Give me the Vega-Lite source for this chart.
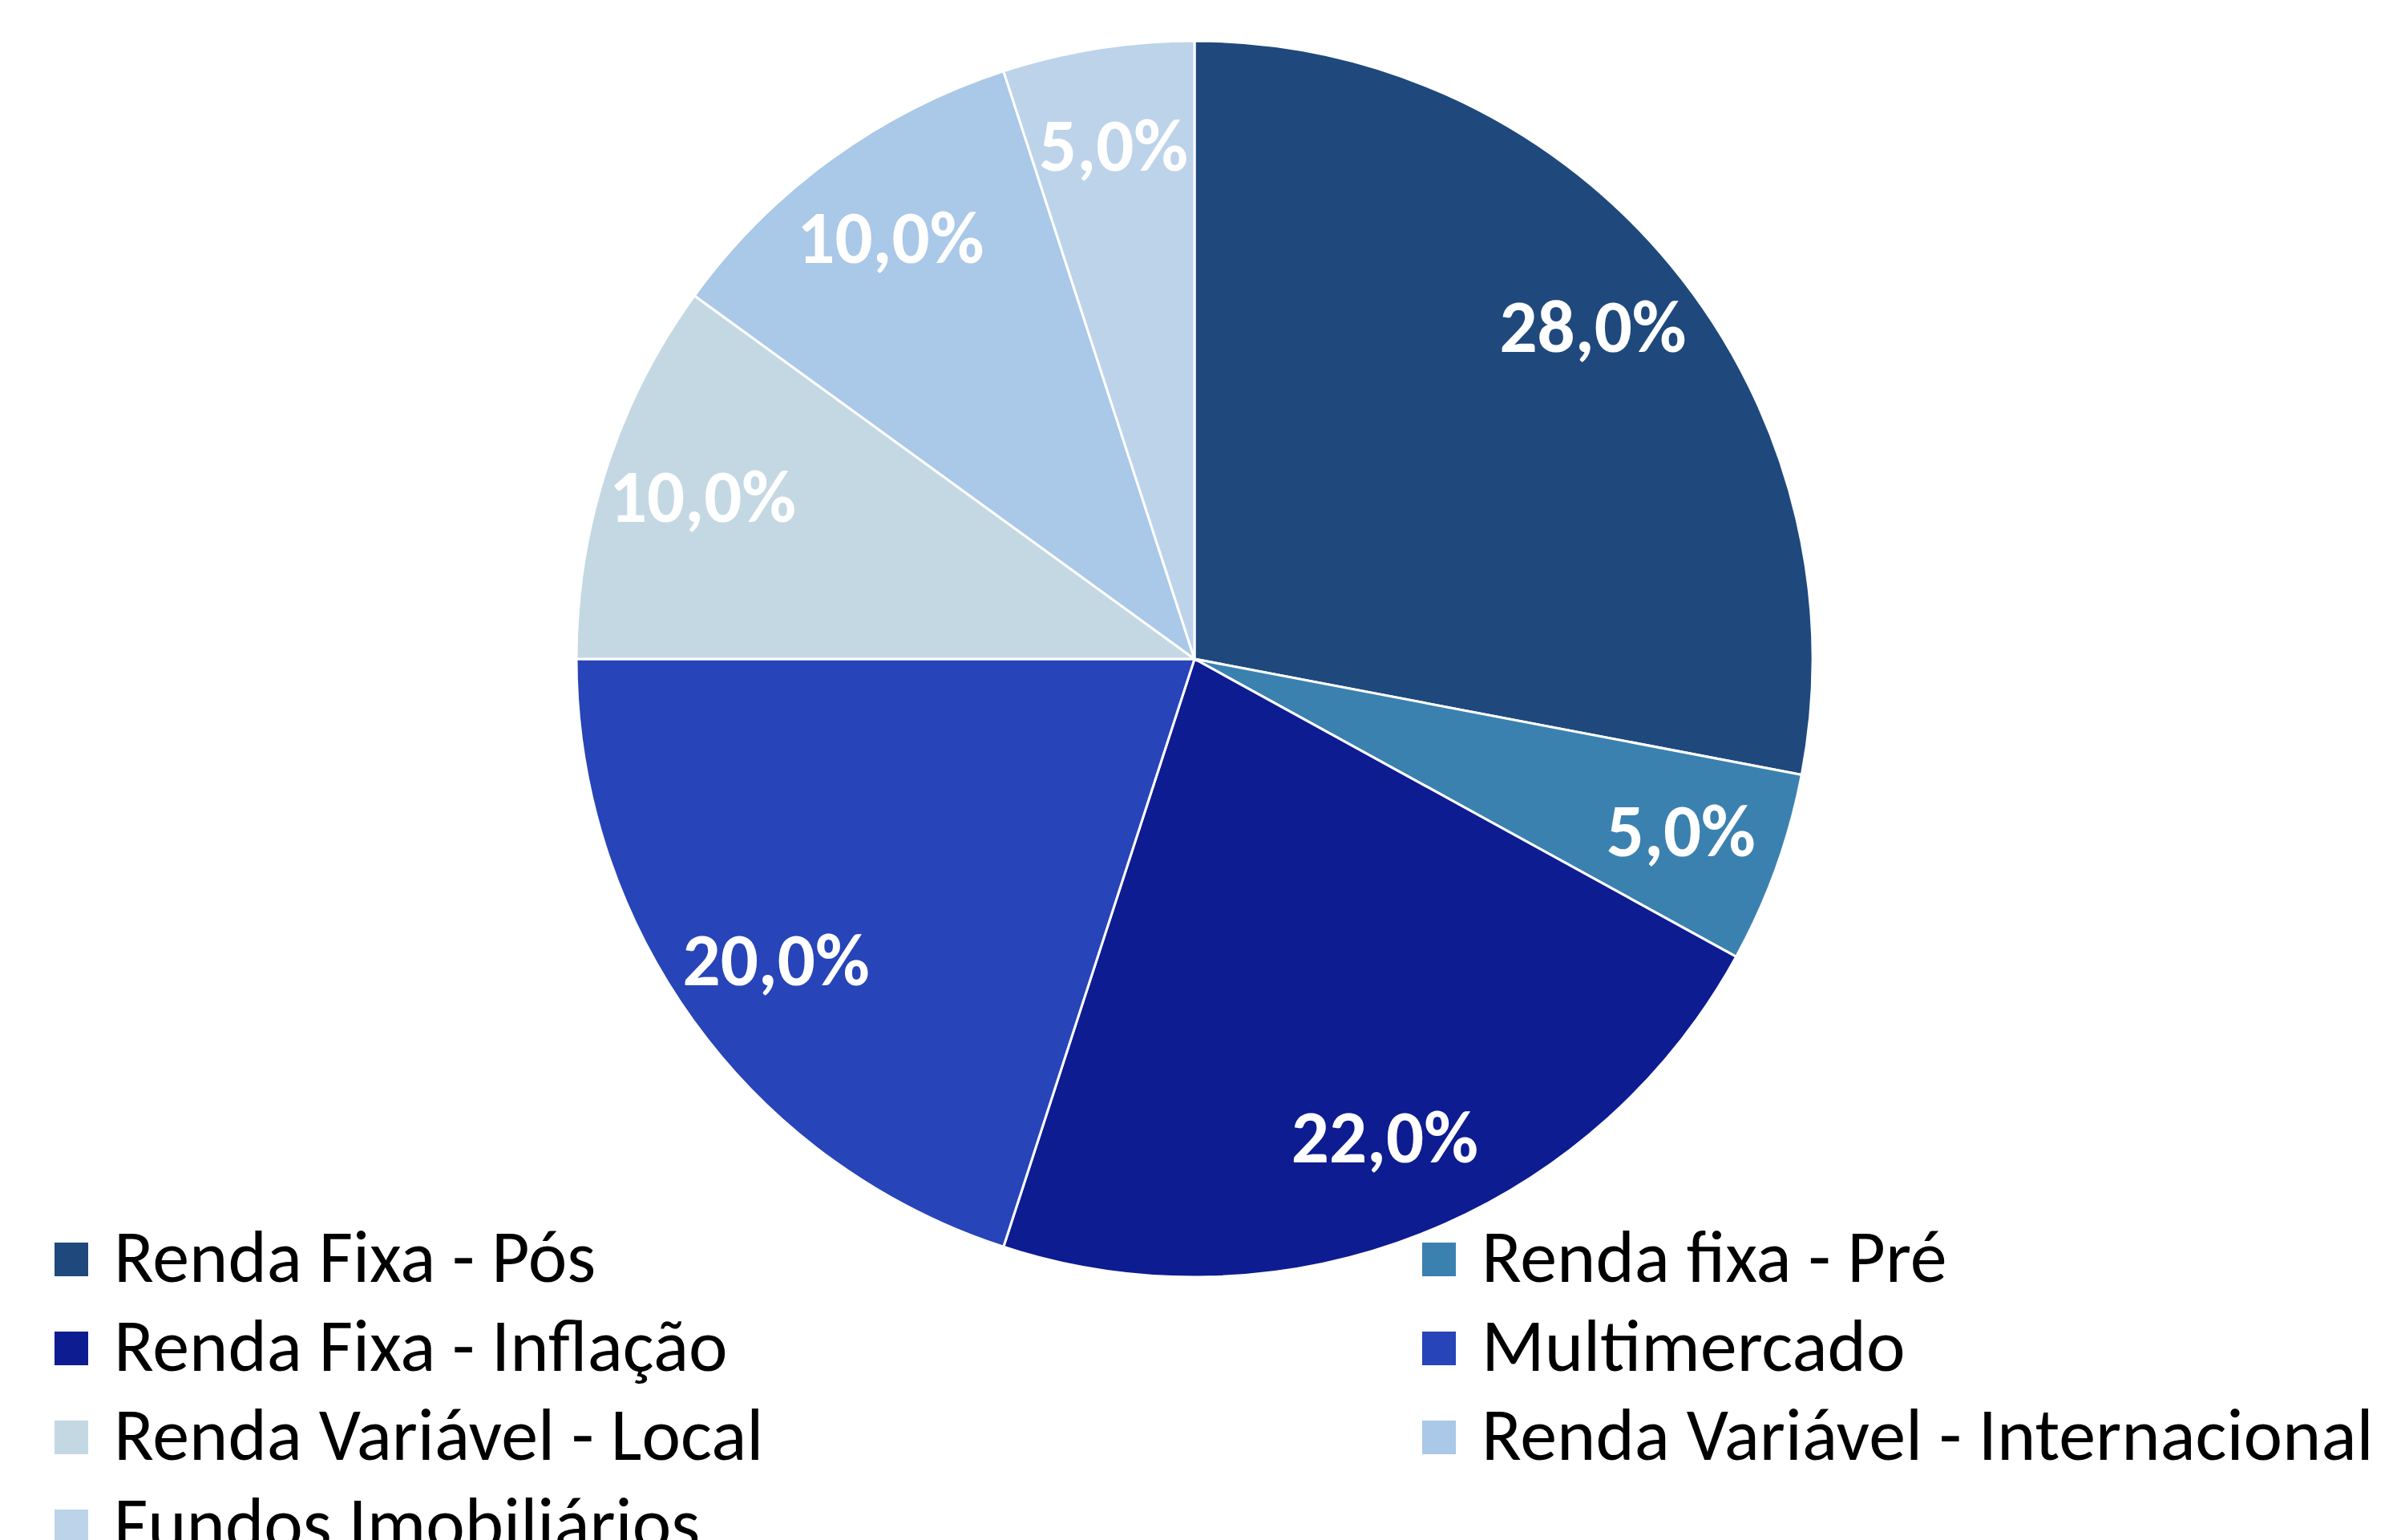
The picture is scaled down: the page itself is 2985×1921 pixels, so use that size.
{
  "$schema": "https://vega.github.io/schema/vega-lite/v6.json",
  "width": 2980,
  "height": 1644,
  "autosize": {"type": "none"},
  "padding": {"left": 0, "top": 0, "right": 5, "bottom": 277},
  "background": "white",
  "config": {"view": {"stroke": null}},
  "data": {
    "values": [
      {"classe": "Renda Fixa - Pós", "valor": 28, "rotulo": "28,0%"},
      {"classe": "Renda fixa - Pré", "valor": 5, "rotulo": "5,0%"},
      {"classe": "Renda Fixa - Inflação", "valor": 22, "rotulo": "22,0%"},
      {"classe": "Multimercado", "valor": 20, "rotulo": "20,0%"},
      {"classe": "Renda Variável - Local", "valor": 10, "rotulo": "10,0%"},
      {"classe": "Renda Variável - Internacional", "valor": 10, "rotulo": "10,0%"},
      {"classe": "Fundos Imobiliários", "valor": 5, "rotulo": "5,0%"}
    ]
  },
  "transform": [
    {"window": [{"op": "row_number", "as": "ordem"}]}
  ],
  "encoding": {
    "theta": {"field": "valor", "type": "quantitative", "stack": true},
    "order": {"field": "ordem", "type": "quantitative"},
    "color": {
      "field": "classe",
      "type": "nominal",
      "scale": {
        "domain": ["Renda Fixa - Pós", "Renda Fixa - Inflação", "Renda Variável - Local", "Fundos Imobiliários", "Renda fixa - Pré", "Multimercado", "Renda Variável - Internacional"],
        "range": ["#1f497d", "#0e1c91", "#c4d8e4", "#bdd3ea", "#3b81b0", "#2744b8", "#aac8e7"]
      },
      "legend": {
        "title": null,
        "orient": "none",
        "legendX": 43,
        "legendY": 1525,
        "columns": 2,
        "columnPadding": 796,
        "rowPadding": 19,
        "padding": 0,
        "symbolType": "square",
        "symbolSize": 1764,
        "symbolStrokeWidth": 0,
        "symbolOpacity": 1,
        "labelFont": "Carlito, Lato",
        "labelFontSize": 92,
        "labelColor": "black",
        "labelOffset": 7,
        "labelLimit": 2000,
        "gridAlign": "each"
      }
    }
  },
  "layer": [
    {
      "mark": {"type": "arc", "outerRadius": 771, "stroke": "white", "strokeWidth": 3}
    },
    {
      "mark": {"type": "text", "radius": 645, "font": "Carlito, Lato", "fontWeight": "bold", "fontSize": 93, "align": "center", "baseline": "middle"},
      "encoding": {
        "text": {"field": "rotulo"},
        "fill": {"value": "white"}
      }
    }
  ]
}
